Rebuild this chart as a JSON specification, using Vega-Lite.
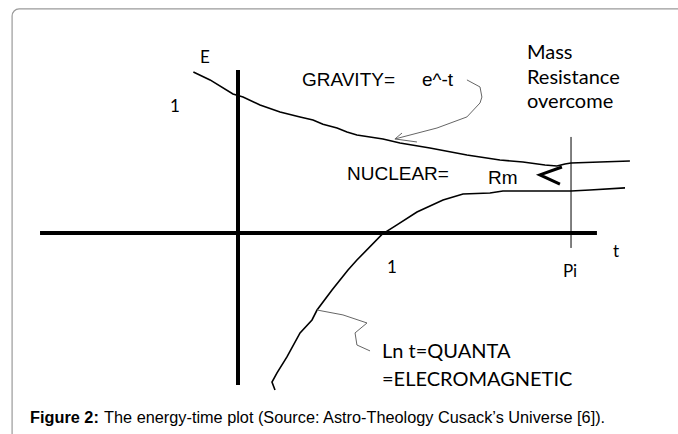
{
  "$schema": "https://vega.github.io/schema/vega-lite/v6.json",
  "width": 678,
  "height": 434,
  "padding": 0,
  "autosize": {"type": "fit", "contains": "padding"},
  "background": "white",
  "config": {"view": {"stroke": null}},
  "datasets": {
    "frame": [{"t": -1.569, "t2": 3.3, "E": 1.556, "E2": -1.7}],
    "axes": [
      {"series": "h", "i": 0, "t": -1.375, "E": 0},
      {"series": "h", "i": 1, "t": 2.493, "E": 0},
      {"series": "v", "i": 0, "t": 0, "E": 1.132},
      {"series": "v", "i": 1, "t": 0, "E": -1.055}
    ],
    "curves": [
      {"series": "gravity", "i": 0, "t": -0.31, "E": 1.118},
      {"series": "gravity", "i": 1, "t": -0.194, "E": 1.063},
      {"series": "gravity", "i": 2, "t": -0.035, "E": 0.965},
      {"series": "gravity", "i": 3, "t": 0.035, "E": 0.944},
      {"series": "gravity", "i": 4, "t": 0.153, "E": 0.889},
      {"series": "gravity", "i": 5, "t": 0.292, "E": 0.84},
      {"series": "gravity", "i": 6, "t": 0.431, "E": 0.806},
      {"series": "gravity", "i": 7, "t": 0.521, "E": 0.785},
      {"series": "gravity", "i": 8, "t": 0.59, "E": 0.755},
      {"series": "gravity", "i": 9, "t": 0.688, "E": 0.729},
      {"series": "gravity", "i": 10, "t": 0.757, "E": 0.701},
      {"series": "gravity", "i": 11, "t": 0.826, "E": 0.681},
      {"series": "gravity", "i": 12, "t": 1.007, "E": 0.653},
      {"series": "gravity", "i": 13, "t": 1.125, "E": 0.625},
      {"series": "gravity", "i": 14, "t": 1.333, "E": 0.59},
      {"series": "gravity", "i": 15, "t": 1.59, "E": 0.542},
      {"series": "gravity", "i": 16, "t": 1.819, "E": 0.507},
      {"series": "gravity", "i": 17, "t": 1.979, "E": 0.493},
      {"series": "gravity", "i": 18, "t": 2.132, "E": 0.472},
      {"series": "gravity", "i": 19, "t": 2.215, "E": 0.465},
      {"series": "gravity", "i": 20, "t": 2.271, "E": 0.479},
      {"series": "gravity", "i": 21, "t": 2.313, "E": 0.486},
      {"series": "gravity", "i": 22, "t": 2.514, "E": 0.493},
      {"series": "gravity", "i": 23, "t": 2.722, "E": 0.5},
      {"series": "quanta", "i": 0, "t": 0.257, "E": -1.09},
      {"series": "quanta", "i": 1, "t": 0.236, "E": -1.035},
      {"series": "quanta", "i": 2, "t": 0.271, "E": -0.972},
      {"series": "quanta", "i": 3, "t": 0.34, "E": -0.861},
      {"series": "quanta", "i": 4, "t": 0.431, "E": -0.694},
      {"series": "quanta", "i": 5, "t": 0.514, "E": -0.604},
      {"series": "quanta", "i": 6, "t": 0.549, "E": -0.535},
      {"series": "quanta", "i": 7, "t": 0.653, "E": -0.396},
      {"series": "quanta", "i": 8, "t": 0.764, "E": -0.257},
      {"series": "quanta", "i": 9, "t": 0.826, "E": -0.188},
      {"series": "quanta", "i": 10, "t": 1.0, "E": -0.01},
      {"series": "quanta", "i": 11, "t": 1.104, "E": 0.056},
      {"series": "quanta", "i": 12, "t": 1.243, "E": 0.146},
      {"series": "quanta", "i": 13, "t": 1.424, "E": 0.229},
      {"series": "quanta", "i": 14, "t": 1.563, "E": 0.271},
      {"series": "quanta", "i": 15, "t": 1.75, "E": 0.278},
      {"series": "quanta", "i": 16, "t": 1.84, "E": 0.292},
      {"series": "quanta", "i": 17, "t": 2.313, "E": 0.292},
      {"series": "quanta", "i": 18, "t": 2.444, "E": 0.299},
      {"series": "quanta", "i": 19, "t": 2.688, "E": 0.313}
    ],
    "pointers": [
      {"series": "g", "i": 0, "t": 1.59, "E": 1.063},
      {"series": "g", "i": 1, "t": 1.681, "E": 1.014},
      {"series": "g", "i": 2, "t": 1.694, "E": 0.944},
      {"series": "g", "i": 3, "t": 1.681, "E": 0.903},
      {"series": "g", "i": 4, "t": 1.59, "E": 0.806},
      {"series": "g", "i": 5, "t": 1.382, "E": 0.729},
      {"series": "g", "i": 6, "t": 1.09, "E": 0.653},
      {"series": "gb", "i": 0, "t": 1.139, "E": 0.694},
      {"series": "gb", "i": 1, "t": 1.09, "E": 0.653},
      {"series": "gb", "i": 2, "t": 1.243, "E": 0.632},
      {"series": "q", "i": 0, "t": 0.549, "E": -0.535},
      {"series": "q", "i": 1, "t": 0.729, "E": -0.569},
      {"series": "q", "i": 2, "t": 0.896, "E": -0.625},
      {"series": "q", "i": 3, "t": 0.813, "E": -0.694},
      {"series": "q", "i": 4, "t": 0.826, "E": -0.778},
      {"series": "q", "i": 5, "t": 0.917, "E": -0.819}
    ],
    "piline": [
      {"i": 0, "t": 2.313, "E": 0.667},
      {"i": 1, "t": 2.313, "E": -0.104}
    ],
    "rm": [
      {"i": 0, "t": 2.25, "E": 0.458},
      {"i": 1, "t": 2.097, "E": 0.403},
      {"i": 2, "t": 2.236, "E": 0.34}
    ],
    "arialLabels": [
      {"label": "GRAVITY=", "t": 0.444, "E": 1.063},
      {"label": "e^-t", "t": 1.278, "E": 1.063},
      {"label": "NUCLEAR=", "t": 0.757, "E": 0.41},
      {"label": "Rm", "t": 1.736, "E": 0.382}
    ],
    "notes": [
      {"label": "Mass", "t": 2.007, "E": 1.25},
      {"label": "Resistance", "t": 2.007, "E": 1.076},
      {"label": "overcome", "t": 2.007, "E": 0.91},
      {"label": "Ln t=QUANTA", "t": 1.0, "E": -0.826},
      {"label": "=ELECROMAGNETIC", "t": 1.0, "E": -1.021}
    ],
    "ticks": [
      {"label": "E", "t": -0.229, "E": 1.215},
      {"label": "1", "t": -0.438, "E": 0.875},
      {"label": "1", "t": 1.069, "E": -0.243},
      {"label": "t", "t": 2.625, "E": -0.132},
      {"label": "Pi", "t": 2.306, "E": -0.271}
    ],
    "capBold": [{"label": "Figure 2:", "t": -1.444, "E": -1.285}],
    "capText": [{"label": "The energy-time plot (Source: Astro-Theology Cusack’s Universe [6]).", "t": -0.93, "E": -1.285}]
  },
  "encoding": {
    "x": {"field": "t", "type": "quantitative", "scale": {"domain": [-1.653, 3.056], "nice": false, "zero": false}, "axis": null},
    "y": {"field": "E", "type": "quantitative", "scale": {"domain": [-1.396, 1.618], "nice": false, "zero": false}, "axis": null}
  },
  "layer": [
    {
      "data": {"name": "frame"},
      "mark": {"type": "rect", "fill": null, "fillOpacity": 0, "stroke": "#9a9a9a", "strokeWidth": 1.2, "cornerRadius": 7, "clip": true},
      "encoding": {"x2": {"field": "t2"}, "y2": {"field": "E2"}}
    },
    {
      "data": {"name": "axes"},
      "mark": {"type": "line", "color": "black", "strokeWidth": 4, "strokeCap": "butt"},
      "encoding": {"detail": {"field": "series"}, "order": {"field": "i"}}
    },
    {
      "data": {"name": "curves"},
      "mark": {"type": "line", "color": "black", "strokeWidth": 1.6},
      "encoding": {"detail": {"field": "series"}, "order": {"field": "i"}}
    },
    {
      "data": {"name": "pointers"},
      "mark": {"type": "line", "color": "#666666", "strokeWidth": 1},
      "encoding": {"detail": {"field": "series"}, "order": {"field": "i"}}
    },
    {
      "data": {"name": "piline"},
      "mark": {"type": "line", "color": "black", "strokeWidth": 1},
      "encoding": {"order": {"field": "i"}}
    },
    {
      "data": {"name": "rm"},
      "mark": {"type": "line", "color": "black", "strokeWidth": 3},
      "encoding": {"order": {"field": "i"}}
    },
    {
      "data": {"name": "arialLabels"},
      "mark": {"type": "text", "font": "Liberation Sans", "fontSize": 19, "align": "left", "baseline": "middle", "color": "black"},
      "encoding": {"text": {"field": "label"}}
    },
    {
      "data": {"name": "notes"},
      "mark": {"type": "text", "font": "Lato", "fontSize": 20, "align": "left", "baseline": "middle", "color": "black"},
      "encoding": {"text": {"field": "label"}}
    },
    {
      "data": {"name": "ticks"},
      "mark": {"type": "text", "font": "Lato", "fontSize": 17, "align": "center", "baseline": "middle", "color": "black"},
      "encoding": {"text": {"field": "label"}}
    },
    {
      "data": {"name": "capBold"},
      "mark": {"type": "text", "font": "Liberation Sans", "fontSize": 16.3, "fontWeight": "bold", "align": "left", "baseline": "middle", "color": "black"},
      "encoding": {"text": {"field": "label"}}
    },
    {
      "data": {"name": "capText"},
      "mark": {"type": "text", "font": "Liberation Sans", "fontSize": 16.3, "align": "left", "baseline": "middle", "color": "black"},
      "encoding": {"text": {"field": "label"}}
    }
  ]
}
